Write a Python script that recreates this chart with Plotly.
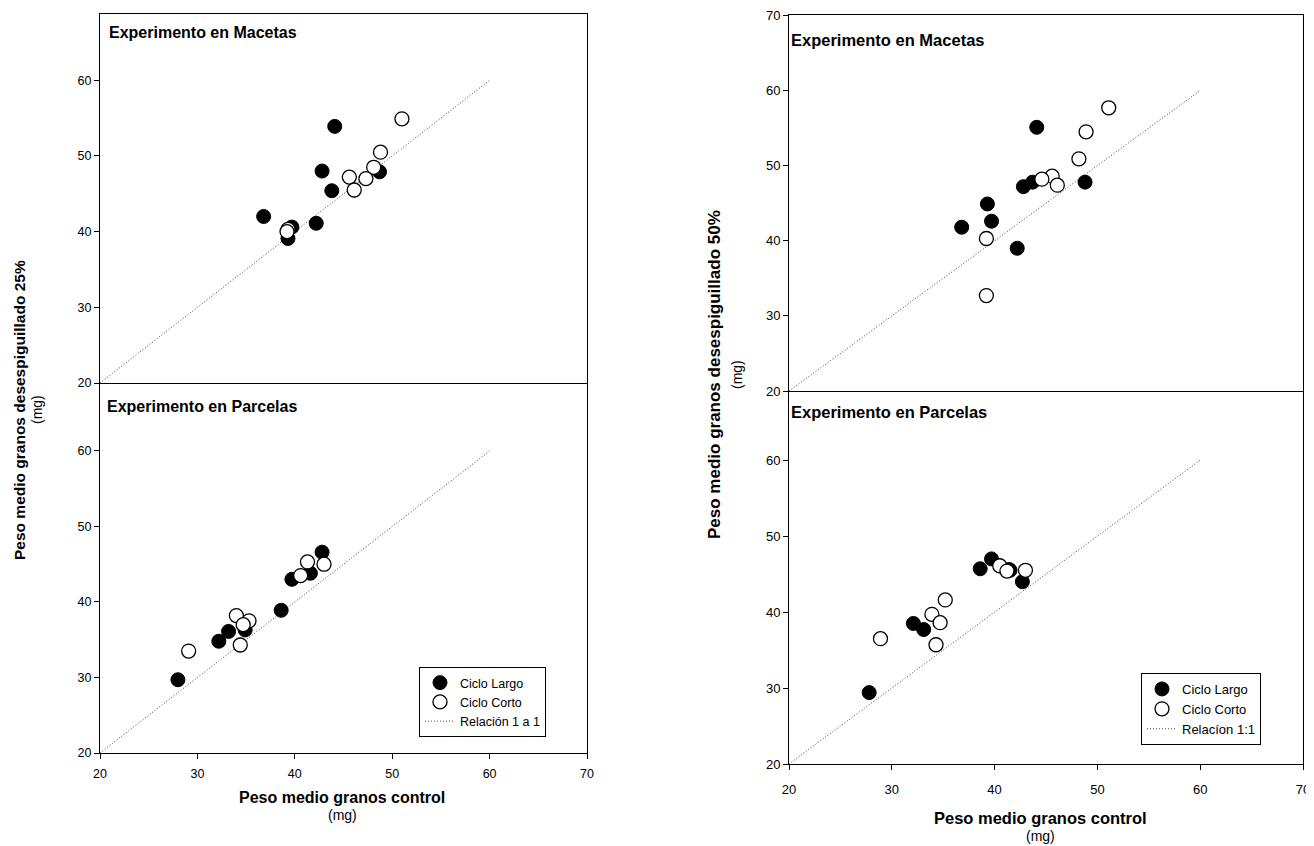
import plotly.graph_objects as go

# ---- data ----
# Left chart (desespiguillado 25%)
mac25_largo_x = [44.1, 42.8, 43.8, 48.7, 36.8, 39.7, 39.3, 42.2]
mac25_largo_y = [53.9, 48.0, 45.4, 47.9, 42.0, 40.6, 39.1, 41.1]
mac25_corto_x = [51.0, 48.8, 48.1, 47.3, 45.6, 46.1, 39.3, 39.2]
mac25_corto_y = [54.9, 50.5, 48.5, 47.0, 47.2, 45.5, 40.3, 40.0]

par25_largo_x = [42.8, 41.6, 39.7, 38.6, 34.9, 33.2, 32.2, 28.0]
par25_largo_y = [46.6, 43.8, 43.0, 38.9, 36.3, 36.1, 34.8, 29.7]
par25_corto_x = [41.3, 43.0, 40.6, 34.0, 35.3, 34.7, 34.4, 29.1]
par25_corto_y = [45.3, 45.0, 43.5, 38.2, 37.5, 37.0, 34.3, 33.5]

# Right chart (desespiguillado 50%)
mac50_largo_x = [44.1, 42.8, 43.7, 48.8, 39.3, 39.7, 36.8, 42.2]
mac50_largo_y = [55.1, 47.2, 47.8, 47.8, 44.9, 42.6, 41.8, 39.0]
mac50_corto_x = [51.1, 48.9, 48.2, 45.6, 44.6, 46.1, 39.2, 39.2]
mac50_corto_y = [57.7, 54.5, 50.9, 48.6, 48.2, 47.4, 40.3, 32.7]

par50_largo_x = [39.7, 38.6, 41.5, 42.7, 32.1, 33.1, 27.8, 41.4]
par50_largo_y = [47.0, 45.7, 45.5, 44.0, 38.5, 37.7, 29.4, 45.6]
par50_corto_x = [40.5, 41.2, 43.0, 35.2, 33.9, 34.7, 34.3, 28.9]
par50_corto_y = [46.1, 45.4, 45.5, 41.6, 39.7, 38.6, 35.7, 36.5]

line_11 = [20, 60]
x_ticks = [20, 30, 40, 50, 60, 70]
y_ticks_60 = [20, 30, 40, 50, 60]
y_ticks_70 = [20, 30, 40, 50, 60, 70]

FONT = "Arial, Liberation Sans, sans-serif"
OFF = 8  # page body margin
W, H = 1314 - OFF, 846 - OFF

fig = go.Figure()

def add_panel(xa, ya, lx, ly, cx, cy, legend, show):
    fig.add_trace(go.Scatter(x=line_11, y=line_11, mode="lines",
                             line=dict(color="#444", width=1, dash="1px,2px"),
                             name=("Relación 1 a 1" if legend == "legend" else "Relacíon 1:1"),
                             xaxis=xa, yaxis=ya, legend=legend, showlegend=show,
                             legendrank=3))
    fig.add_trace(go.Scatter(x=lx, y=ly, mode="markers",
                             marker=dict(symbol="circle", size=14, color="black",
                                         line=dict(color="black", width=1)),
                             name="Ciclo Largo", xaxis=xa, yaxis=ya,
                             legend=legend, showlegend=show, legendrank=1))
    fig.add_trace(go.Scatter(x=cx, y=cy, mode="markers",
                             marker=dict(symbol="circle", size=14, color="white",
                                         line=dict(color="black", width=1.3)),
                             name="Ciclo Corto", xaxis=xa, yaxis=ya,
                             legend=legend, showlegend=show, legendrank=2))

add_panel("x", "y", mac25_largo_x, mac25_largo_y, mac25_corto_x, mac25_corto_y, "legend", False)
add_panel("x2", "y2", par25_largo_x, par25_largo_y, par25_corto_x, par25_corto_y, "legend", True)
add_panel("x3", "y3", mac50_largo_x, mac50_largo_y, mac50_corto_x, mac50_corto_y, "legend2", False)
add_panel("x4", "y4", par50_largo_x, par50_largo_y, par50_corto_x, par50_corto_y, "legend2", True)

def px_x(p):
    return (p - OFF) / W

def px_y(p):
    return 1 - (p - OFF) / H

L_dom = [px_x(100), px_x(587)]
R_dom = [px_x(789), px_x(1303)]

def axis(size):
    return dict(showline=True, linecolor="black", linewidth=1, mirror=True,
                showgrid=False, zeroline=False, automargin=False,
                ticklabeloverflow="allow",
                tickfont=dict(family=FONT, size=size, color="black"),
                ticks="outside", ticklen=5, tickcolor="black", tickwidth=1)

fig.update_layout(
    template="none",
    xaxis=dict(axis(12.5), domain=L_dom, range=[20, 70], anchor="y",
               showticklabels=False, ticks=""),
    yaxis=dict(axis(12.5), domain=[px_y(383), px_y(14)], range=[20, 68.75],
               tickvals=y_ticks_60, anchor="x"),
    xaxis2=dict(axis(12.5), domain=L_dom, range=[20, 70], anchor="y2",
                tickvals=x_ticks, mirror=False, ticklabelstandoff=4),
    yaxis2=dict(axis(12.5), domain=[px_y(753), px_y(383)], range=[20, 69],
                tickvals=y_ticks_60, anchor="x2"),
    xaxis3=dict(axis(13), domain=R_dom, range=[20, 70], anchor="y3",
                showticklabels=False, ticks=""),
    yaxis3=dict(axis(13), domain=[px_y(391), px_y(15)], range=[20, 70.05],
                tickvals=y_ticks_70, anchor="x3"),
    xaxis4=dict(axis(13), domain=R_dom, range=[20, 70], anchor="y4",
                tickvals=x_ticks, mirror=False, ticklabelstandoff=8),
    yaxis4=dict(axis(13), domain=[px_y(764), px_y(391)], range=[20, 69.1],
                tickvals=y_ticks_60, anchor="x4"),
    width=W, height=H,
    margin=dict(l=0, r=0, t=0, b=0, autoexpand=False),
    plot_bgcolor="white", paper_bgcolor="white",
    font=dict(family=FONT, color="black"),
    legend=dict(x=px_x(419), y=px_y(667), xanchor="left", yanchor="top",
                bordercolor="black", borderwidth=1, bgcolor="white",
                font=dict(family=FONT, size=12.5), tracegroupgap=0,
                itemwidth=30),
    legend2=dict(x=px_x(1141), y=px_y(673), xanchor="left", yanchor="top",
                 bordercolor="black", borderwidth=1, bgcolor="white",
                 font=dict(family=FONT, size=13), tracegroupgap=0,
                 itemwidth=30),
)

ann = []
def text(x, y, s, size=14, bold=False, angle=0, xanchor="center", yanchor="middle"):
    ann.append(dict(x=px_x(x), y=px_y(y), xref="paper", yref="paper",
                    text=(f"<b>{s}</b>" if bold else s), showarrow=False,
                    textangle=angle, xanchor=xanchor, yanchor=yanchor,
                    font=dict(family=FONT, size=size, color="black")))

# panel titles
text(107, 32, "Experimento en Macetas", 16, True, xanchor="left")
text(105, 407, "Experimento en Parcelas", 16, True, xanchor="left")
text(789, 40, "Experimento en Macetas", 16.5, True, xanchor="left")
text(789, 412, "Experimento en Parcelas", 16.5, True, xanchor="left")

# axis titles left
text(19, 410, "Peso medio granos desespiguillado 25%", 15.5, True, angle=-90)
text(37, 410, "(mg)", 14, False, angle=-90)
text(342, 797, "Peso medio granos control", 16, True)
text(342, 815, "(mg)", 14)

# axis titles right
text(714, 375, "Peso medio granos desespiguillado 50%", 17, True, angle=-90)
text(737, 375, "(mg)", 14, False, angle=-90)
text(1040, 818, "Peso medio granos control", 16.5, True)
text(1040, 836, "(mg)", 14)

fig.update_layout(annotations=ann)

fig.write_html("out.html")
